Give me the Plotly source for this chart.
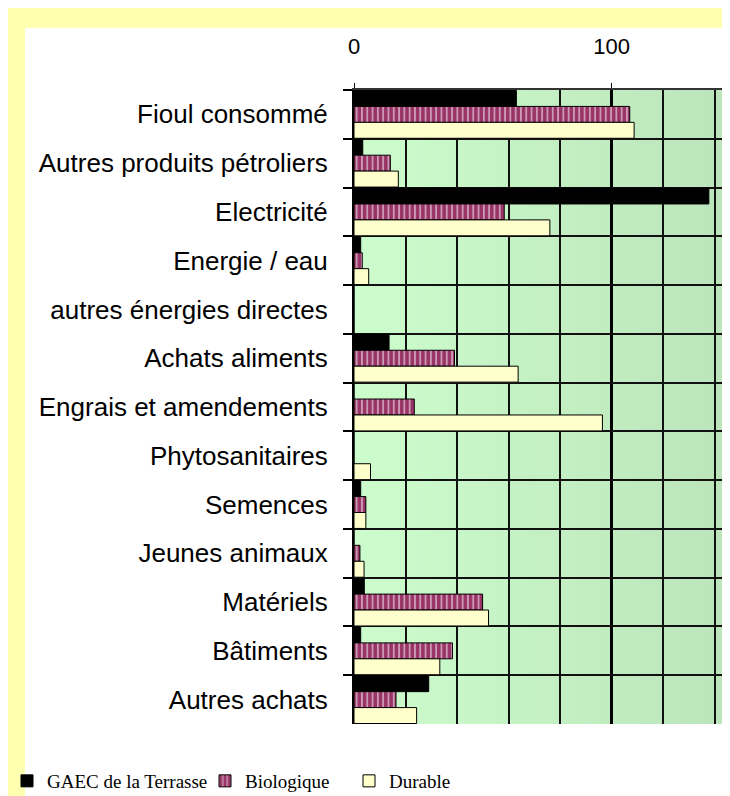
import plotly.graph_objects as go
import numpy as np

categories = ["Fioul consommé", "Autres produits pétroliers", "Electricité", "Energie / eau",
              "autres énergies directes", "Achats aliments", "Engrais et amendements",
              "Phytosanitaires", "Semences", "Jeunes animaux", "Matériels", "Bâtiments",
              "Autres achats"]
gaec = [63, 3.4, 137.7, 2.6, 0, 13.6, 0, 0, 2.6, 0, 4, 2.6, 29]
biologique = [107, 14.1, 58.3, 3.2, 0, 39, 23.4, 0, 4.6, 2.3, 49.9, 38.2, 16.3]
durable = [108.7, 17.2, 76, 5.7, 0, 63.7, 96.4, 6.4, 4.6, 3.9, 52.2, 33.3, 24.3]
series_names = ["GAEC de la Terrasse", "Biologique", "Durable"]
x_tick_values = [0, 100]

OFF = 8  # page body margin
W, H = 730 - OFF, 796 - OFF
# plot area in page pixels: x 354..727, y 90..724
L = 354 - OFF
T = 90 - OFF
R = W - (727 - OFF)
B = H - (724 - OFF)
pw, ph = W - L - R, H - T - B


def xp(page_px):
    return (page_px - OFF - L) / pw


def yp(page_py):
    return (H - B - (page_py - OFF)) / ph


fig = go.Figure()
fig.add_trace(go.Bar(y=categories, x=gaec, name=series_names[0], orientation="h",
                     marker=dict(color="black", line=dict(color="black", width=1)),
                     legend="legend"))
fig.add_trace(go.Bar(y=categories, x=biologique, name=series_names[1], orientation="h",
                     marker=dict(color="#993366", line=dict(color="black", width=1),
                                 pattern=dict(shape="|", fgcolor="white", bgcolor="#993366",
                                              size=5.3, solidity=0.35)),
                     legend="legend2"))
fig.add_trace(go.Bar(y=categories, x=durable, name=series_names[2], orientation="h",
                     marker=dict(color="#ffffcc", line=dict(color="black", width=1)),
                     legend="legend3"))

shapes = []
# background gradient (decorative)
xmax = (727 - 354) / ((611.7 - 354) / 100)
n = 58
c0 = np.array([205, 253, 205])
c1 = np.array([188, 229, 188])
for i in range(n):
    a, b = xmax * i / n, xmax * (i + 1) / n + 0.2
    c = c0 + (c1 - c0) * (i / (n - 1))
    shapes.append(dict(type="rect", xref="x", yref="paper", x0=a, x1=b, y0=0, y1=1,
                       fillcolor="rgb(%d,%d,%d)" % tuple(c.astype(int)), line=dict(width=0),
                       layer="below"))
# yellow frame
yel = "#ffffb0"
for (x0, x1, y0, y1) in [(6, 732, 6, 28), (6, 25, 6, 800), (728, 732, 6, 800)]:
    shapes.append(dict(type="rect", xref="paper", yref="paper", x0=xp(x0), x1=xp(x1),
                       y0=yp(y1), y1=yp(y0), fillcolor=yel, line=dict(width=0), layer="below"))

leg_font = dict(family="Liberation Serif", size=19, color="black")
leg_common = dict(orientation="h", xanchor="left", y=yp(781), yanchor="middle",
                  font=leg_font, bgcolor="rgba(0,0,0,0)", itemwidth=30)

fig.update_layout(
    width=W, height=H,
    margin=dict(l=L, r=R, t=T, b=B, pad=0, autoexpand=False),
    paper_bgcolor="white", plot_bgcolor="#c6f0c6",
    barmode="group", bargap=0.02, bargroupgap=0,
    shapes=shapes,
    showlegend=True,
    legend=dict(x=xp(48 - 41), **leg_common),
    legend2=dict(x=xp(246 - 41), **leg_common),
    legend3=dict(x=xp(390 - 41), **leg_common),
    font=dict(family="Liberation Sans", color="black"),
)
fig.update_xaxes(side="top", range=[0, xmax], tickmode="array", tickvals=x_tick_values,
                 ticktext=[str(v) for v in x_tick_values],
                 ticks="outside", ticklen=5, tickcolor="black", tickwidth=1,
                 tickfont=dict(family="Liberation Sans", size=22, color="black"),
                 ticklabelstandoff=20, automargin=False,
                 showgrid=True, gridcolor="black", gridwidth=3,
                 minor=dict(tickmode="linear", tick0=0, dtick=20, showgrid=True,
                            gridcolor="#111", gridwidth=1.5, ticks=""),
                 showline=True, linecolor="#333", linewidth=2, zeroline=False, fixedrange=True)
fig.update_yaxes(autorange="reversed", tickson="boundaries", ticks="outside", ticklen=9,
                 tickcolor="black", tickwidth=1.5,
                 tickfont=dict(family="Liberation Sans", size=26, color="black"),
                 ticklabelstandoff=19, automargin=False,
                 showgrid=True, gridcolor="#111", gridwidth=1.5,
                 showline=True, linecolor="black", linewidth=2, zeroline=False, fixedrange=True)

fig.write_html("out.html")
